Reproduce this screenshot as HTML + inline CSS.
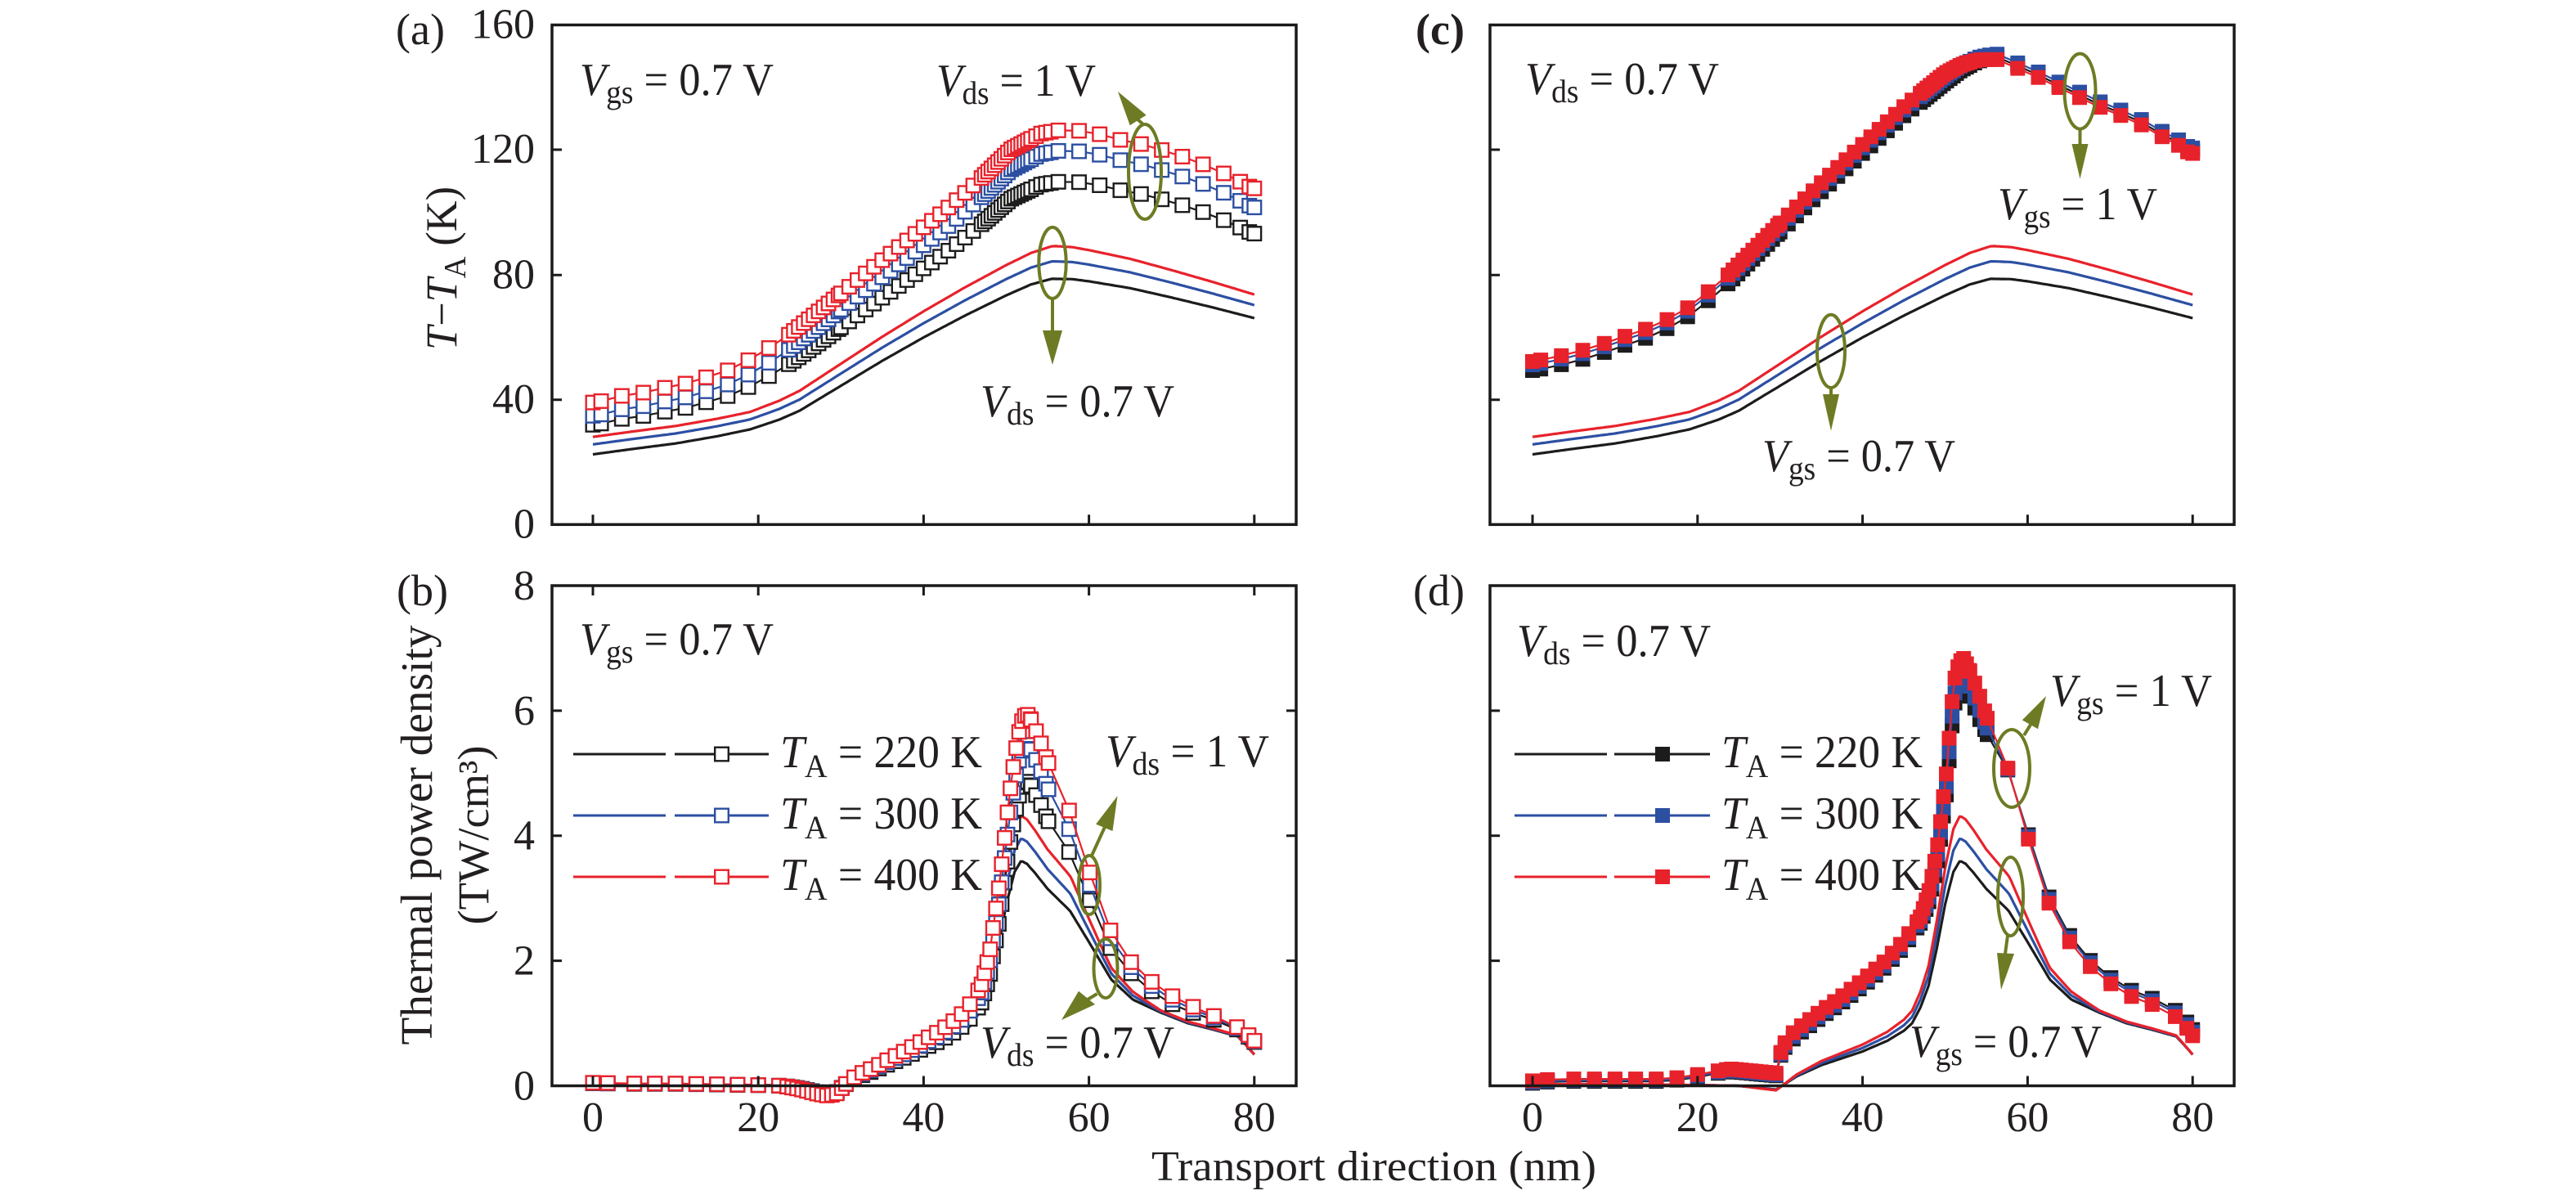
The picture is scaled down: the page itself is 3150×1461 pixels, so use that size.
<!DOCTYPE html>
<html><head><meta charset="utf-8"><style>
html,body{margin:0;padding:0;background:#fff;}
svg{display:block;}
text{font-family:"Liberation Serif","Times New Roman",serif;fill:#231f20;}
</style></head><body>
<svg id="s" xmlns="http://www.w3.org/2000/svg" width="3150" height="1461" viewBox="0 0 3150 1461">
<rect width="3150" height="1461" fill="#fff"/>

<!-- panel labels -->
<text x="484" y="54" font-size="54">(a)</text>
<text x="1731" y="54" font-size="54" font-weight="bold">(c)</text>
<text x="485" y="740" font-size="54">(b)</text>
<text x="1728" y="740" font-size="54">(d)</text>

<!-- y tick labels (a) -->
<g font-size="52" text-anchor="end">
<text x="654" y="46.5">160</text>
<text x="654" y="199">120</text>
<text x="654" y="352.3">80</text>
<text x="654" y="504.8">40</text>
<text x="654" y="657.3">0</text>
<text x="654" y="733">8</text>
<text x="654" y="885.9">6</text>
<text x="654" y="1038.7">4</text>
<text x="654" y="1191.6">2</text>
<text x="654" y="1344.5">0</text>
</g>
<!-- x tick labels -->
<g font-size="52" text-anchor="middle">
<text x="725" y="1383">0</text>
<text x="927.2" y="1383">20</text>
<text x="1129.4" y="1383">40</text>
<text x="1331.6" y="1383">60</text>
<text x="1533.8" y="1383">80</text>
<text x="1874" y="1383">0</text>
<text x="2075.8" y="1383">20</text>
<text x="2277.6" y="1383">40</text>
<text x="2479.4" y="1383">60</text>
<text x="2681.2" y="1383">80</text>
</g>
<text x="1680" y="1443" font-size="52" text-anchor="middle" textLength="544" lengthAdjust="spacingAndGlyphs">Transport direction (nm)</text>

<!-- y axis titles -->
<text transform="translate(558,328) rotate(-90)" font-size="54" text-anchor="middle" textLength="200" lengthAdjust="spacingAndGlyphs"><tspan font-style="italic">T</tspan>−<tspan font-style="italic">T</tspan><tspan font-size="38" dy="11">A</tspan><tspan dy="-11"> (K)</tspan></text>
<text transform="translate(528,1021) rotate(-90)" font-size="55" text-anchor="middle" textLength="513" lengthAdjust="spacingAndGlyphs">Thermal power density</text>
<text transform="translate(597,1021) rotate(-90)" font-size="54" text-anchor="middle" textLength="219" lengthAdjust="spacingAndGlyphs">(TW/cm³)</text>

<!-- annotations -->
<g font-size="56">
<text x="709" y="116" textLength="237" lengthAdjust="spacingAndGlyphs"><tspan font-style="italic">V</tspan><tspan font-size="40" dy="10">gs</tspan><tspan dy="-10"> = 0.7 V</tspan></text>
<text x="1145" y="117" textLength="195" lengthAdjust="spacingAndGlyphs"><tspan font-style="italic">V</tspan><tspan font-size="40" dy="10">ds</tspan><tspan dy="-10"> = 1 V</tspan></text>
<text x="1199" y="509" textLength="237" lengthAdjust="spacingAndGlyphs"><tspan font-style="italic">V</tspan><tspan font-size="40" dy="10">ds</tspan><tspan dy="-10"> = 0.7 V</tspan></text>

<text x="1865" y="115" textLength="237" lengthAdjust="spacingAndGlyphs"><tspan font-style="italic">V</tspan><tspan font-size="40" dy="10">ds</tspan><tspan dy="-10"> = 0.7 V</tspan></text>
<text x="2443" y="268" textLength="195" lengthAdjust="spacingAndGlyphs"><tspan font-style="italic">V</tspan><tspan font-size="40" dy="10">gs</tspan><tspan dy="-10"> = 1 V</tspan></text>
<text x="2155" y="576" textLength="236" lengthAdjust="spacingAndGlyphs"><tspan font-style="italic">V</tspan><tspan font-size="40" dy="10">gs</tspan><tspan dy="-10"> = 0.7 V</tspan></text>

<text x="709" y="800" textLength="237" lengthAdjust="spacingAndGlyphs"><tspan font-style="italic">V</tspan><tspan font-size="40" dy="10">gs</tspan><tspan dy="-10"> = 0.7 V</tspan></text>
<text x="1352" y="937" textLength="200" lengthAdjust="spacingAndGlyphs"><tspan font-style="italic">V</tspan><tspan font-size="40" dy="10">ds</tspan><tspan dy="-10"> = 1 V</tspan></text>
<text x="1199" y="1293" textLength="237" lengthAdjust="spacingAndGlyphs"><tspan font-style="italic">V</tspan><tspan font-size="40" dy="10">ds</tspan><tspan dy="-10"> = 0.7 V</tspan></text>

<text x="1855" y="802" textLength="237" lengthAdjust="spacingAndGlyphs"><tspan font-style="italic">V</tspan><tspan font-size="40" dy="10">ds</tspan><tspan dy="-10"> = 0.7 V</tspan></text>
<text x="2507" y="863" textLength="198" lengthAdjust="spacingAndGlyphs"><tspan font-style="italic">V</tspan><tspan font-size="40" dy="10">gs</tspan><tspan dy="-10"> = 1 V</tspan></text>
<text x="2335" y="1292" textLength="235" lengthAdjust="spacingAndGlyphs"><tspan font-style="italic">V</tspan><tspan font-size="40" dy="10">gs</tspan><tspan dy="-10"> = 0.7 V</tspan></text>

<!-- legend texts -->
<text x="954" y="938" textLength="247" lengthAdjust="spacingAndGlyphs"><tspan font-style="italic">T</tspan><tspan font-size="40" dy="12">A</tspan><tspan dy="-12"> = 220 K</tspan></text>
<text x="954" y="1013" textLength="247" lengthAdjust="spacingAndGlyphs"><tspan font-style="italic">T</tspan><tspan font-size="40" dy="12">A</tspan><tspan dy="-12"> = 300 K</tspan></text>
<text x="954" y="1088" textLength="247" lengthAdjust="spacingAndGlyphs"><tspan font-style="italic">T</tspan><tspan font-size="40" dy="12">A</tspan><tspan dy="-12"> = 400 K</tspan></text>
<text x="2105" y="938" textLength="246" lengthAdjust="spacingAndGlyphs"><tspan font-style="italic">T</tspan><tspan font-size="40" dy="12">A</tspan><tspan dy="-12"> = 220 K</tspan></text>
<text x="2105" y="1013" textLength="246" lengthAdjust="spacingAndGlyphs"><tspan font-style="italic">T</tspan><tspan font-size="40" dy="12">A</tspan><tspan dy="-12"> = 300 K</tspan></text>
<text x="2105" y="1088" textLength="246" lengthAdjust="spacingAndGlyphs"><tspan font-style="italic">T</tspan><tspan font-size="40" dy="12">A</tspan><tspan dy="-12"> = 400 K</tspan></text>
</g>

<!-- legend lines -->
<g stroke-width="3" fill="none">
<path d="M701 922H814M825 922H940" stroke="#1c1c1c"/>
<path d="M701 997H814M825 997H940" stroke="#2c4fa2"/>
<path d="M701 1072H814M825 1072H940" stroke="#e8222b"/>
<path d="M1852 922H1965M1974 922H2091" stroke="#1c1c1c"/>
<path d="M1852 997H1965M1974 997H2091" stroke="#2c4fa2"/>
<path d="M1852 1072H1965M1974 1072H2091" stroke="#e8222b"/>
</g>
<g stroke-width="2.4" fill="#fff">
<rect x="874.2" y="913.7" width="16.6" height="16.6" stroke="#1c1c1c"/>
<rect x="874.2" y="988.7" width="16.6" height="16.6" stroke="#2c4fa2"/>
<rect x="874.2" y="1063.7" width="16.6" height="16.6" stroke="#e8222b"/>
</g>
<rect x="2024" y="913" width="18" height="18" fill="#1c1c1c"/>
<rect x="2024" y="988" width="18" height="18" fill="#2c4fa2"/>
<rect x="2024" y="1063" width="18" height="18" fill="#e8222b"/>

<g id="data"></g>

<!-- axes -->
<g fill="none" stroke="#1a1a1a" stroke-width="3.5">
<rect x="675" y="30.5" width="910" height="610.8"/>
<rect x="1822" y="30.5" width="910" height="610.8"/>
<rect x="675" y="716" width="910" height="611.5"/>
<rect x="1822" y="716" width="910" height="611.5"/>
</g>
<g fill="none" stroke="#1a1a1a" stroke-width="3">
<path d="M675 183h12M675 336.3h12M675 488.8h12M725 641.3v-12M927.2 641.3v-12M1129.4 641.3v-12M1331.6 641.3v-12M1533.8 641.3v-12"/>
<path d="M1822 183h12M1822 336.3h12M1822 488.8h12M1874 641.3v-12M2075.8 641.3v-12M2277.6 641.3v-12M2479.4 641.3v-12M2681.2 641.3v-12"/>
<path d="M675 868.9h12M675 1021.7h12M675 1174.6h12M1585 868.9h-12M1585 1021.7h-12M1585 1174.6h-12M725 1327.5v-12M927.2 1327.5v-12M1129.4 1327.5v-12M1331.6 1327.5v-12M1533.8 1327.5v-12M725 716v12M927.2 716v12M1129.4 716v12M1331.6 716v12M1533.8 716v12"/>
<path d="M1822 868.9h12M1822 1021.7h12M1822 1174.6h12M1874 1327.5v-12M2075.8 1327.5v-12M2277.6 1327.5v-12M2479.4 1327.5v-12M2681.2 1327.5v-12"/>
</g>

<!-- olive ellipses & arrows -->
<g stroke="#6e7b24" stroke-width="4" fill="none">
<ellipse cx="1400" cy="210" rx="20" ry="58"/>
<path d="M1398 152L1391 146"/>
<ellipse cx="1287" cy="321.4" rx="16.7" ry="43.5"/>
<path d="M1287 365V405"/>
<ellipse cx="2543.5" cy="111.6" rx="19" ry="46"/>
<path d="M2543.5 157.6V177"/>
<ellipse cx="2239" cy="429.4" rx="17" ry="44.6"/>
<path d="M2239 474V483"/>
<ellipse cx="1332" cy="1082" rx="13" ry="36"/>
<path d="M1335 1046L1351 1011"/>
<ellipse cx="1352" cy="1184" rx="14.5" ry="36"/>
<path d="M1341.6 1215L1330 1222"/>
<ellipse cx="2460" cy="939.5" rx="22" ry="47.5"/>
<path d="M2475 899L2483 886"/>
<ellipse cx="2458.5" cy="1096" rx="15.5" ry="48"/>
<path d="M2455 1144L2452 1166"/>
</g>
<g fill="#6e7b24">
<polygon points="1367,112 1381.7,153.3 1401.7,140.7"/>
<polygon points="1287,446 1275,404 1299,404"/>
<polygon points="2543.5,218.7 2533.5,176 2553.5,176"/>
<polygon points="2239,526.8 2229,482 2249,482"/>
<polygon points="1366.5,973 1360.5,1016 1340.1,1007.6"/>
<polygon points="1298,1247 1319,1211.7 1339,1228"/>
<polygon points="2502,851 2492,891.2 2472.8,880.4"/>
<polygon points="2447,1210 2442,1165 2463,1166"/>
</g>
</svg>
<script>
(function(){
var NS='http://www.w3.org/2000/svg';
var G=document.getElementById('data');
function el(tag,attrs,parent){var e=document.createElementNS(NS,tag);for(var k in attrs)e.setAttribute(k,attrs[k]);(parent||G).appendChild(e);return e;}
function ip(p,x){if(x<=p[0][0])return p[0][1];for(var i=1;i<p.length;i++){if(x<=p[i][0]){var a=p[i-1],b=p[i];return a[1]+(b[1]-a[1])*(x-a[0])/(b[0]-a[0]);}}return p[p.length-1][1];}
function range(a,b,s){var r=[];for(var x=a;x<b-1e-9;x+=s)r.push(Math.round(x*1000)/1000);return r;}
var P={A:[725,10.11,641.3,3.8125],B:[725,10.11,1327.5,76.44],C:[1874,10.09,641.3,3.8125],D:[1874,10.09,1327.5,76.44]};
function pts(pn,xs,f){var q=P[pn];return xs.map(function(x){return [q[0]+x*q[1], q[2]-f(x)*q[3]];});}
function line(pp,col,w){el('polyline',{points:pp.map(function(p){return p[0].toFixed(1)+','+p[1].toFixed(1);}).join(' '),fill:'none',stroke:col,'stroke-width':w,'stroke-linejoin':'round'});}
function marks(pp,col,filled){line(pp,col,2.2);var g=el('g',{});pp.forEach(function(p){if(filled)el('rect',{x:(p[0]-9).toFixed(1),y:(p[1]-9).toFixed(1),width:18,height:18,fill:col},g);else el('rect',{x:(p[0]-8.3).toFixed(1),y:(p[1]-8.3).toFixed(1),width:16.6,height:16.6,fill:'#fff',stroke:col,'stroke-width':2.4},g);});}
var K='#1c1c1c',B='#2c4fa2',R='#e8222b';
var xsL=range(0,80.01,0.25);
var meshT=[0,1,3.5,6.1,8.7,11.2,13.7,16.3,18.8,21.3,23.7].concat(range(24.3,30,0.6),range(30,47,1.0),range(47,53,0.4),range(53,56,0.6),[56.3,58.8,61.3,63.8,66.3,68.8,71.3,73.8,76.3,78.3,79.4,80]);
var meshP=[0,1.8,5,7.5,10,12.5,15,17.5,20,22.5].concat(range(23.5,30.2,0.6),range(30.6,47,1.0),range(47,53,0.35),range(53,55,0.6),[55.1,57.6,60.1,62.6,65.1,67.6,70.1,72.6,75.1,77.9,79.3,80]);

/* ---- T lines (a),(c) ---- */
var blackA=[[0,22.5],[5,24.3],[10,26],[15,28.3],[19,30.5],[22.5,33.6],[25,36.5],[30,44.5],[35,52.5],[40,60],[45,67],[50,73.5],[53,77],[55.5,78.8],[58,78.7],[60,78],[65,75.8],[70,72.8],[75,69.6],[80,66.2]];
function sA(x){return x<=19?0:(x<=56?(x-19)/37:1-0.6*(x-56)/24);}
function tK(x){return ip(blackA,x);}
function tB(x){return ip(blackA,x)+3.2+2.4*sA(x);}
function tR(x){return ip(blackA,x)+5.6+4.9*sA(x);}
['A','C'].forEach(function(pn){
 line(pts(pn,xsL,tK),K,3.2);line(pts(pn,xsL,tB),B,3.2);line(pts(pn,xsL,tR),R,3.2);
});
/* ---- (a) markers ---- */
var mA=[[0,32],[1,32.4],[3.5,33.9],[6.3,34.9],[8.7,36.2],[11.2,37.4],[13.7,39.2],[16.3,41.2],[18.8,44.1],[21.3,47.6],[23.7,51.4],[27,57.5],[32.5,68],[37.2,76.9],[42.8,87.4],[46.7,95.6],[50.6,104.5],[54.2,109],[56.5,110],[58.8,109.8],[61.3,108.8],[63.8,107.2],[66.3,106],[68.8,104.3],[71.3,102.4],[73.8,100.2],[76.3,97.6],[78.5,95],[79.5,93.7],[80,93.3]];
marks(pts('A',meshT,function(x){return ip(mA,x);}),K,false);
marks(pts('A',meshT,function(x){return ip(mA,x)*1.09;}),B,false);
marks(pts('A',meshT,function(x){return ip(mA,x)*1.12+3.3;}),R,false);
/* ---- (c) markers ---- */
var mC=[[0,52.3],[1.3,52.9],[3.4,54.1],[6,55.8],[8.6,58],[11,60.2],[13.5,62.4],[16,65.3],[18.5,68.9],[21,74],[23.6,79.8],[25,83.5],[30,96.7],[35,109.6],[40,121.9],[45,134],[50,144.7],[52,147.5],[54,149],[56.2,149.2],[58.7,146.4],[61.2,143.5],[63.6,140.4],[66,137.3],[68.6,134],[71.2,131.3],[73.7,128.3],[76.4,124.2],[78.2,121.8],[79.4,119.5],[80,119]];
var dKc=[[0,-2.9],[50,-2.9],[56,0.8],[80,0.8]], dBc=[[0,-1.1],[50,-1.1],[56,1.75],[80,1.75]];
marks(pts('C',meshT,function(x){return ip(mC,x)+ip(dKc,x);}),K,true);
marks(pts('C',meshT,function(x){return ip(mC,x)+ip(dBc,x);}),B,true);
marks(pts('C',meshT,function(x){return ip(mC,x);}),R,true);

/* ---- P lines (b),(d) ---- */
var blackL=[[0,0.02],[10,0.02],[20,0.01],[25,0],[28,-0.04],[29.5,-0.06],[30,-0.02],[32,0.15],[35,0.33],[40,0.55],[43,0.72],[45,0.88],[46,1.0],[47,1.25],[48,1.6],[49,2.2],[50,2.9],[51,3.42],[51.8,3.6],[52.5,3.55],[53.5,3.4],[55,3.15],[57.7,2.8],[60,2.3],[62.7,1.7],[65.3,1.38],[68.7,1.17],[72,1.0],[75,0.9],[78,0.79],[79,0.65],[80,0.5]];
var gL=[[0,1],[58,1],[62.7,0.55],[65.4,0.45],[68.7,0.15],[78,0.1],[80,0]];
function pK(x){return ip(blackL,x);}
function pB(x){return ip(blackL,x)*(1+0.1*ip(gL,x));}
function pR(x){return ip(blackL,x)*(1+0.2*ip(gL,x));}
['B','D'].forEach(function(pn){
 line(pts(pn,xsL,pK),K,3.2);line(pts(pn,xsL,pB),B,3.2);line(pts(pn,xsL,pR),R,3.2);
});
/* ---- (b) markers ---- */
var mB=[[0,0.04],[5,0.03],[10,0.03],[15,0.02],[20,0.01],[23,0],[25,-0.04],[27,-0.1],[28.5,-0.13],[29.5,-0.1],[30.2,-0.02],[31,0.07],[32,0.14],[34,0.24],[36,0.36],[38,0.47],[40,0.6],[42,0.72],[44,0.88],[45,0.98],[46,1.13],[47,1.33],[48,1.75],[48.5,2.15],[49,2.5],[49.5,2.95],[50,3.45],[50.5,3.9],[51,4.3],[51.5,4.62],[52,4.82],[52.5,4.88],[53,4.8],[54,4.55],[55,4.25],[57.5,3.77],[60,3.0],[62.5,2.22],[65,1.81],[67.5,1.52],[70,1.31],[72.5,1.17],[75,1.06],[77.5,0.93],[79,0.82],[80,0.7]];
var hB=[[0,1.22],[56,1.22],[57.4,1.18],[60,1.15],[62.4,1.13],[65,1.1],[70,1.1],[72.5,1.085],[75,1.06],[80,1.03]];
marks(pts('B',meshP,function(x){return ip(mB,x);}),K,false);
marks(pts('B',meshP,function(x){return ip(mB,x)*(1+(ip(hB,x)-1)*0.55);}),B,false);
marks(pts('B',meshP,function(x){return ip(mB,x)*ip(hB,x);}),R,false);
/* ---- (d) markers ---- */
var mD=[[0,0.08],[1.8,0.1],[5,0.11],[15,0.11],[17.5,0.13],[20,0.18],[22.5,0.24],[24,0.27],[29.6,0.2],[30.2,0.6],[31,0.78],[32.4,0.94],[35,1.2],[37.5,1.43],[40,1.69],[42.6,1.98],[45,2.32],[47,2.7],[48,3.09],[48.6,3.48],[49.2,3.93],[49.7,4.52],[50.2,5.04],[50.5,5.56],[50.8,6.08],[51.1,6.47],[51.7,6.78],[52.3,6.84],[53.3,6.54],[54,6.31],[55.2,5.84],[57.7,5.05],[60.2,3.9],[62.7,2.88],[65.2,2.28],[67.7,1.89],[70.2,1.62],[72.7,1.42],[75.1,1.3],[78,1.1],[79.3,0.92],[80,0.8]];
var dkD=[[0,-0.04],[30,-0.04],[31,-0.1],[47,-0.1],[49,-0.25],[51,-0.4],[54,-0.4],[56,-0.15],[58,0],[61,0.1],[80,0.1]];
marks(pts('D',meshP,function(x){return ip(mD,x)+ip(dkD,x);}),K,true);
marks(pts('D',meshP,function(x){return ip(mD,x)+0.6*ip(dkD,x);}),B,true);
marks(pts('D',meshP,function(x){return ip(mD,x);}),R,true);
})();
</script>
</body></html>
